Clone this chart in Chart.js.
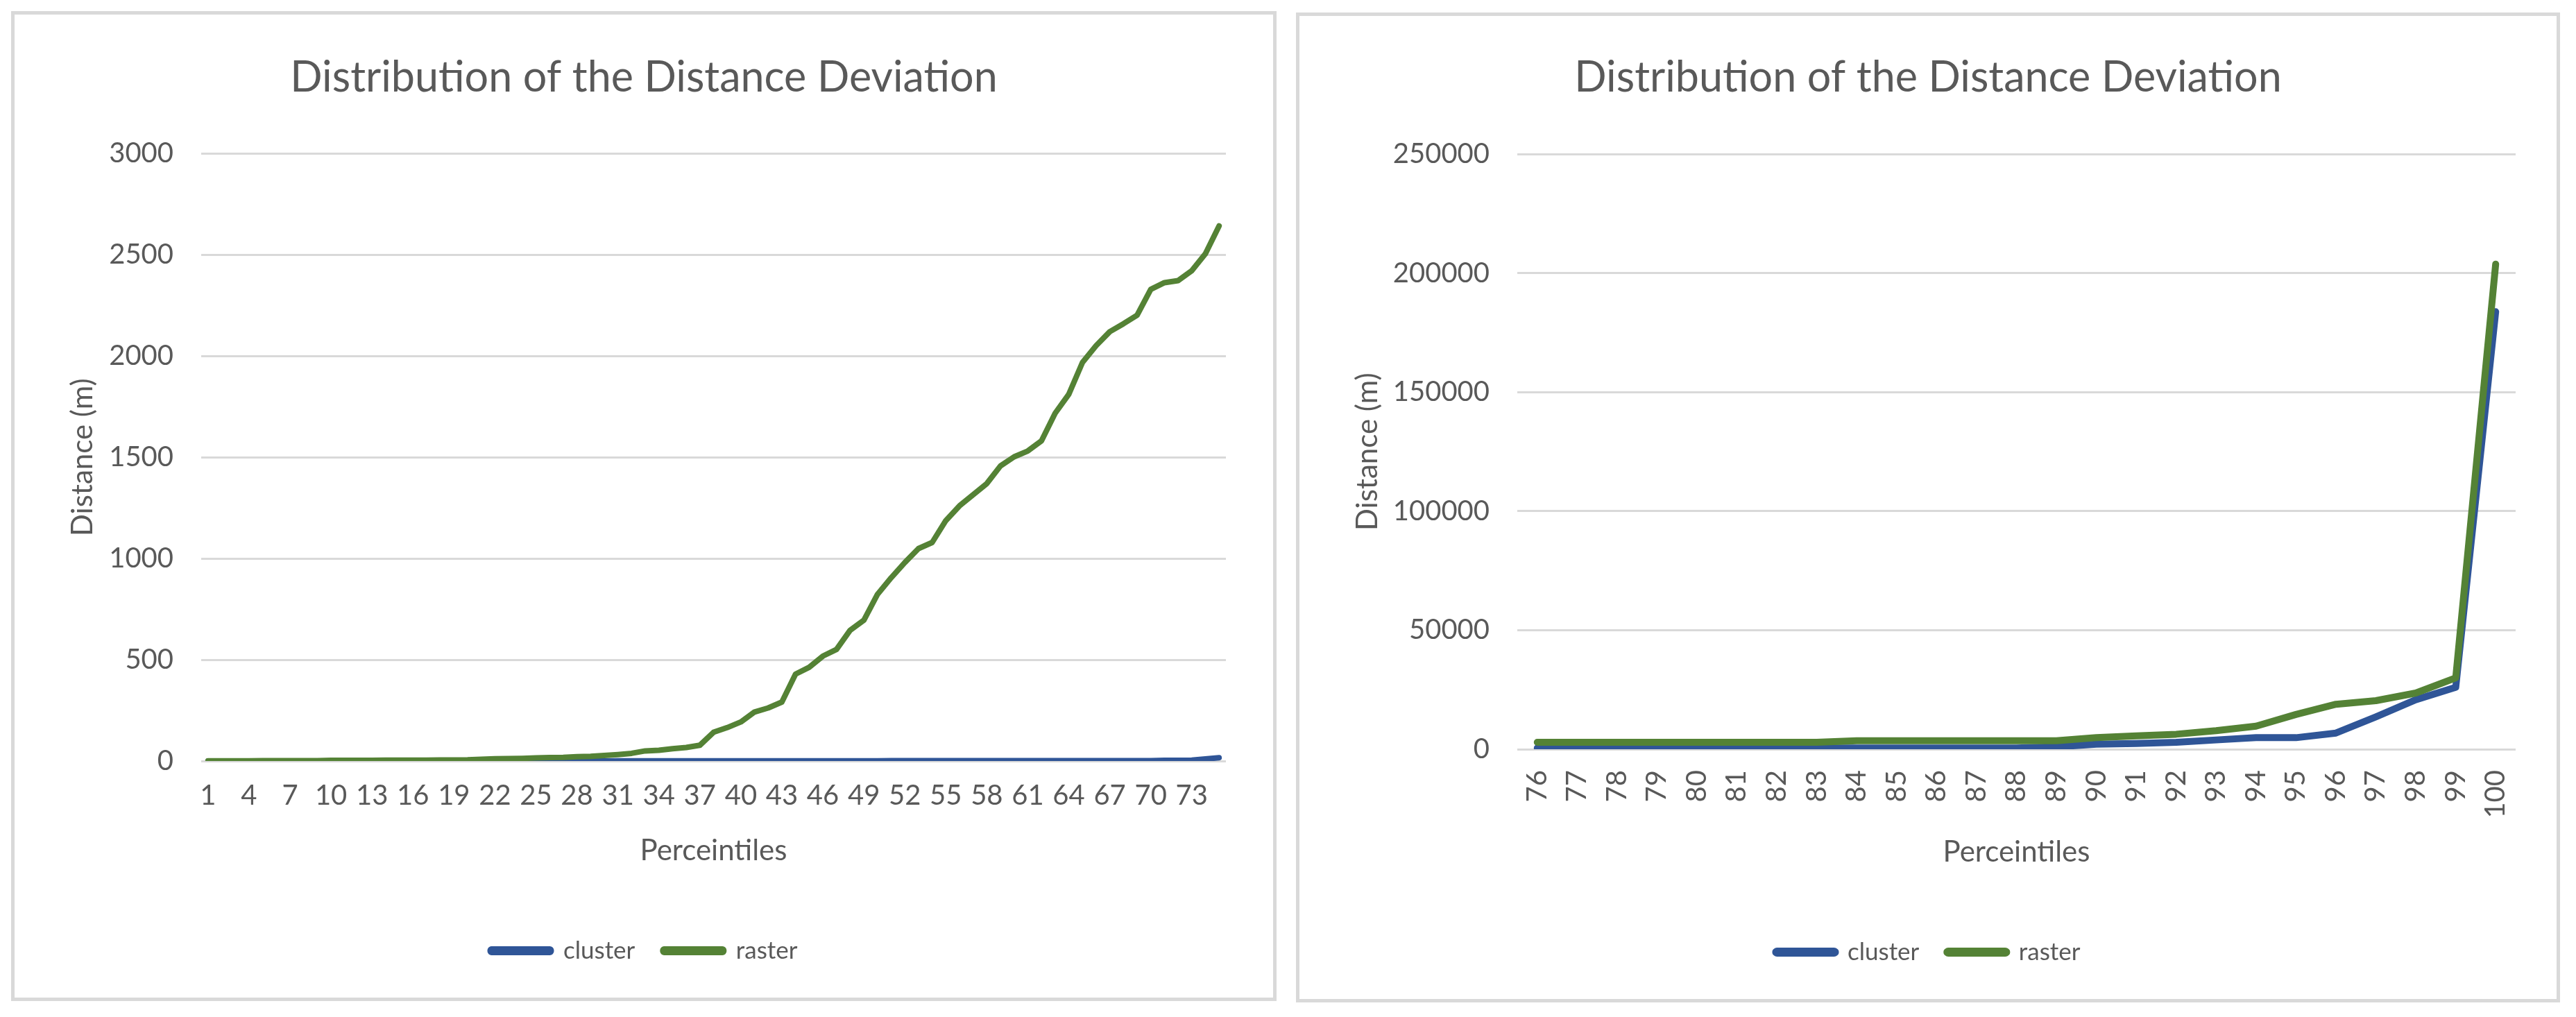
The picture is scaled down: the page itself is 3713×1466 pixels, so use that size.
<!DOCTYPE html>
<html>
<head>
<meta charset="utf-8">
<script src="https://cdn.jsdelivr.net/npm/chart.js@4.4.1/dist/chart.umd.min.js"></script>
<style>
  body { margin: 0; background: #fff; width: 3713px; height: 1466px; overflow: hidden; position: relative; }
  .panel { position: absolute; border: 5px solid #d9d9d9; box-sizing: border-box; background: #fff; }
  #p1 { left: 16px; top: 16px; width: 1824px; height: 1427px; }
  #p2 { left: 1868px; top: 18px; width: 1822px; height: 1427px; }
  .panel canvas { display: block; }
</style>
</head>
<body>
<div class="panel" id="p1"><canvas id="c1" width="1814" height="1417"></canvas></div>
<div class="panel" id="p2"><canvas id="c2" width="1812" height="1417"></canvas></div>
<script>
// ===== DATA =====
const TITLE = 'Distribution of the Distance Deviation';
const SERIES = ['cluster', 'raster'];

const percentilesLow = [1,2,3,4,5,6,7,8,9,10,11,12,13,14,15,16,17,18,19,20,21,22,23,24,25,
  26,27,28,29,30,31,32,33,34,35,36,37,38,39,40,41,42,43,44,45,46,47,48,49,50,
  51,52,53,54,55,56,57,58,59,60,61,62,63,64,65,66,67,68,69,70,71,72,73,74,75];
const clusterLow = [0,0,0,0,0,0,0,0,0,0,0,0,0,0,0,0,0,0,0,0,0,0,0,0,0,
  0,0,0,0,0,1,1,1,1,1,1,1,1,1,1,1,1,1,1,1,1,1,1,1,1,
  2,2,2,2,2,2,2,2,2,2,2,2,2,2,2,2,2,2,2,2,3,3,4,10,16];
const rasterLow = [1,1,1,1,2,2,2,2,2,3,3,3,3,4,4,4,4,5,5,6,9,11,12,13,15,
  17,18,21,23,27,32,38,50,53,61,67,78,142,165,193,242,262,291,429,463,518,551,646,695,823,
  905,980,1049,1079,1187,1260,1315,1370,1457,1502,1531,1581,1717,1811,1968,2051,2120,2159,2201,2329,2362,2372,2421,2505,2642];

const percentilesHigh = [76,77,78,79,80,81,82,83,84,85,86,87,88,89,90,91,92,93,94,95,96,97,98,99,100];
const clusterHigh = [500,500,500,500,500,500,500,500,500,500,500,500,500,1000,2100,2400,2900,3900,4850,4850,6800,13600,20800,26000,183800];
const rasterHigh = [2900,2900,2900,2900,2900,2900,2900,2900,3600,3600,3600,3600,3600,3600,4850,5600,6300,7800,9700,14600,18900,20400,23600,30000,203800];

const BLUE = '#2f5597';
const GREEN = '#548235';
const TEXT = '#595959';
const GRID = '#d9d9d9';

Chart.defaults.font.family = 'Lato, "Open Sans", sans-serif';
Chart.defaults.color = TEXT;

// ===== CHART =====
function buildChart(id, o) {
  return new Chart(document.getElementById(id), {
    type: 'line',
    data: {
      labels: o.labels,
      datasets: [
        { label: SERIES[0], data: o.cluster, borderColor: BLUE, backgroundColor: BLUE, borderWidth: o.lw, order: 1 },
        { label: SERIES[1], data: o.raster, borderColor: GREEN, backgroundColor: GREEN, borderWidth: o.lw, order: 0 }
      ]
    },
    options: {
      responsive: false,
      animation: false,
      devicePixelRatio: 1,
      elements: {
        point: { radius: 0, hoverRadius: 0 },
        line: { tension: 0, borderJoinStyle: 'round', borderCapStyle: 'round' }
      },
      layout: { padding: { left: 20, right: 20, top: 0, bottom: 40 } },
      plugins: {
        tooltip: { enabled: false },
        title: {
          display: true, text: TITLE, color: TEXT,
          font: { size: 61, weight: 'normal' },
          padding: { top: o.titleTop, bottom: o.titleBottom }
        },
        legend: {
          position: 'bottom',
          labels: {
            font: { size: 35 },
            color: TEXT,
            boxWidth: 96 - o.lw,
            boxHeight: 13 - o.lw,
            useBorderRadius: true,
            borderRadius: 2,
            padding: 40,
            sort: (a, b) => a.datasetIndex - b.datasetIndex
          }
        }
      },
      scales: {
        x: {
          type: 'category',
          offset: true,
          grid: { display: false, drawTicks: false },
          border: { display: false },
          ticks: {
            autoSkip: false,
            font: { size: 40 },
            color: TEXT,
            padding: o.xTickPad,
            minRotation: o.rot,
            maxRotation: o.rot,
            callback: function (v, i) { return i % o.every === 0 ? this.getLabelForValue(v) : ''; }
          },
          title: { display: true, text: 'Perceintiles', color: TEXT, font: { size: 42 }, padding: { top: 0, bottom: 61 } },
          afterFit: s => { s.height = o.xH; }
        },
        y: {
          min: 0, max: o.yMax,
          grid: { color: GRID, lineWidth: 3, drawTicks: false },
          border: { display: false },
          ticks: { stepSize: o.yStep, font: { size: 40 }, color: TEXT, padding: 40, callback: v => String(v) },
          title: { display: true, text: 'Distance (m)', color: TEXT, font: { size: 42 }, padding: { top: 53, bottom: 0 } },
          afterFit: s => { s.width = o.yW; }
        },
        // empty right-hand spacer so the title and legend stay centred on the panel
        ySpace: {
          type: 'linear', position: 'right', display: true,
          grid: { display: false, drawTicks: false },
          border: { display: false },
          ticks: { display: false },
          afterFit: s => { s.width = o.rightW; }
        }
      }
    }
  });
}

buildChart('c1', {
  labels: percentilesLow, cluster: clusterLow, raster: rasterLow,
  yMax: 3000, yStep: 500, lw: 8, every: 3, rot: 0, xTickPad: 26,
  yW: 249, rightW: 48, xH: 216, titleTop: 55, titleBottom: 72
});

buildChart('c2', {
  labels: percentilesHigh, cluster: clusterHigh, raster: rasterHigh,
  yMax: 250000, yStep: 50000, lw: 10, every: 1, rot: 90, xTickPad: 30,
  yW: 294, rightW: 39, xH: 235, titleTop: 53, titleBottom: 73
});
</script>
</body>
</html>
